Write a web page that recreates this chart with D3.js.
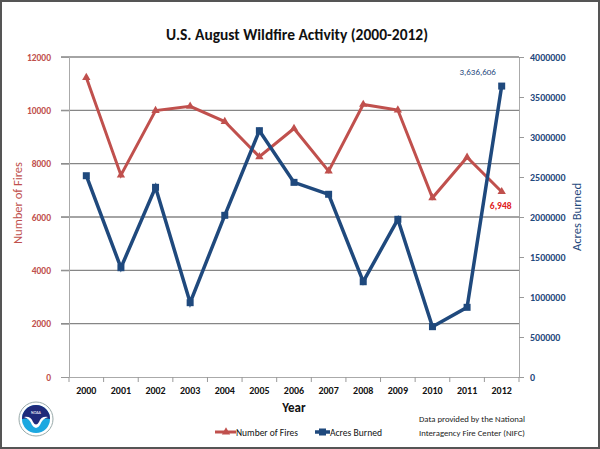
<!DOCTYPE html>
<html><head><meta charset="utf-8">
<script src="https://cdn.jsdelivr.net/npm/d3@7"></script>
<style>body{margin:0;background:#fff}svg{display:block;font-family:Carlito,Lato,"Open Sans",sans-serif}</style>
</head><body><svg id="c" width="600" height="449"></svg>
<script>
const years = ["2000","2001","2002","2003","2004","2005","2006","2007","2008","2009","2010","2011","2012"];
const fires = [11230,7570,9990,10150,9580,8260,9320,7720,10220,10010,6720,8240,6948];
const acres = [2516000,1366000,2371000,929000,2021000,3079000,2433000,2284000,1191000,1971000,629000,871000,3636606];
const leftTicks = [0,2000,4000,6000,8000,10000,12000];
const rightTicks = [0,500000,1000000,1500000,2000000,2500000,3000000,3500000,4000000];
const RED="#c0504d", BLUE="#1f497d";
const svg=d3.select("#c");
const m={l:69,r:519,t:57,b:377};
const x=d3.scaleBand().domain(years).range([m.l,m.r]);
const yL=d3.scaleLinear().domain([0,12000]).range([m.b,m.t]);
const yR=d3.scaleLinear().domain([0,4000000]).range([m.b,m.t]);
// border
svg.append("rect").attr("x",1).attr("y",1).attr("width",598).attr("height",447).attr("fill","#fff").attr("stroke","#555").attr("stroke-width",2);
// title
svg.append("text").attr("x",297).attr("y",40).attr("text-anchor","middle").attr("font-size",15.5).attr("font-weight","bold").attr("fill","#111").text("U.S. August Wildfire Activity (2000-2012)");
// gridlines
svg.append("g").selectAll("line").data(leftTicks.filter(d=>d>0)).join("line")
 .attr("x1",m.l-8).attr("x2",m.r).attr("y1",d=>yL(d)).attr("y2",d=>yL(d)).attr("stroke","#868686").attr("stroke-width",1.3);
// left axis
const gL=svg.append("g").attr("transform",`translate(${m.l},0)`).call(d3.axisLeft(yL).tickValues(leftTicks).tickSize(8).tickPadding(10).tickFormat(d3.format("d")));
gL.selectAll("text").attr("fill",RED).attr("font-size",9.5).attr("font-weight","bold").attr("font-family","Carlito,Lato,sans-serif");
gL.selectAll("line").attr("stroke","#999");gL.select(".domain").attr("stroke","#aaa");
// right axis
const gR=svg.append("g").attr("transform",`translate(${m.r},0)`).call(d3.axisRight(yR).tickValues(rightTicks).tickSize(5).tickPadding(6).tickFormat(d3.format("d")));
gR.selectAll("text").attr("fill",BLUE).attr("font-size",10).attr("font-weight","bold").attr("font-family","Carlito,Lato,sans-serif");
gR.selectAll("line").attr("stroke","#999");gR.select(".domain").attr("stroke","#aaa");
// bottom axis
const gB=svg.append("g").attr("transform",`translate(0,${m.b})`).call(d3.axisBottom(x).tickSize(0).tickPadding(10));
gB.selectAll("text").attr("fill","#111").attr("font-size",10).attr("font-weight","bold").attr("font-family","Carlito,Lato,sans-serif");
gB.select(".domain").attr("stroke","#aaa");
svg.append("g").selectAll("line").data(years.concat(["end"])).join("line")
 .attr("x1",(d,i)=>m.l+i*x.step()).attr("x2",(d,i)=>m.l+i*x.step()).attr("y1",m.b).attr("y2",m.b+5).attr("stroke","#999");
// axis titles
svg.append("text").attr("transform","translate(22,203) rotate(-90)").attr("text-anchor","middle").attr("font-size",13).attr("textLength",82).attr("lengthAdjust","spacingAndGlyphs").attr("fill",RED).text("Number of Fires");
svg.append("text").attr("transform","translate(581,217) rotate(-90)").attr("text-anchor","middle").attr("font-size",13).attr("textLength",68).attr("lengthAdjust","spacingAndGlyphs").attr("fill",BLUE).text("Acres Burned");
svg.append("text").attr("x",294).attr("y",412).attr("text-anchor","middle").attr("font-size",13).attr("font-weight","bold").attr("fill","#111").text("Year");
const cx=d=>x(d)+x.bandwidth()/2;
// lines
svg.append("path").datum(fires).attr("fill","none").attr("stroke",RED).attr("stroke-width",3)
 .attr("d",d3.line().x((d,i)=>cx(years[i])).y(d=>yL(d)));
svg.append("g").selectAll("path").data(fires).join("path")
 .attr("d",d3.symbol(d3.symbolTriangle,30)()).attr("fill",RED)
 .attr("transform",(d,i)=>`translate(${cx(years[i])},${yL(d)})`);
svg.append("path").datum(acres).attr("fill","none").attr("stroke",BLUE).attr("stroke-width",3.5)
 .attr("d",d3.line().x((d,i)=>cx(years[i])).y(d=>yR(d)));
svg.append("g").selectAll("rect").data(acres).join("rect")
 .attr("x",(d,i)=>cx(years[i])-3.5).attr("y",d=>yR(d)-3.5).attr("width",7).attr("height",7).attr("fill",BLUE);
// data labels
svg.append("text").attr("x",cx("2012")-24).attr("y",yR(acres[12])-11).attr("text-anchor","middle").attr("font-size",9).attr("fill",BLUE).text(d3.format(",")(acres[12]));
svg.append("text").attr("x",cx("2012")-1).attr("y",yL(fires[12])+17).attr("text-anchor","middle").attr("font-size",9.5).attr("font-weight","bold").attr("fill","#e02020").text(d3.format(",")(fires[12]));
// legend
const lg=svg.append("g");
const ly=432;
lg.append("line").attr("x1",215).attr("x2",236).attr("y1",ly).attr("y2",ly).attr("stroke",RED).attr("stroke-width",3);
lg.append("path").attr("d",d3.symbol(d3.symbolTriangle,30)()).attr("fill",RED).attr("transform",`translate(226,${ly})`);
lg.append("text").attr("x",236).attr("y",ly+4).attr("font-size",10.5).attr("textLength",62).attr("lengthAdjust","spacingAndGlyphs").attr("fill","#111").text("Number of Fires");
lg.append("line").attr("x1",315).attr("x2",330).attr("y1",ly).attr("y2",ly).attr("stroke",BLUE).attr("stroke-width",3.5);
lg.append("rect").attr("x",319).attr("y",ly-3.5).attr("width",7).attr("height",7).attr("fill",BLUE);
lg.append("text").attr("x",330).attr("y",ly+4).attr("font-size",10.5).attr("textLength",52).attr("lengthAdjust","spacingAndGlyphs").attr("fill","#111").text("Acres Burned");
// source note
svg.append("text").attr("x",419).attr("y",422).attr("font-size",8.5).attr("textLength",106).attr("lengthAdjust","spacingAndGlyphs").attr("fill","#222").text("Data provided by the National");
svg.append("text").attr("x",419).attr("y",436).attr("font-size",8.5).attr("textLength",106).attr("lengthAdjust","spacingAndGlyphs").attr("fill","#222").text("Interagency Fire Center (NIFC)");
// NOAA logo
const lo=svg.append("g").attr("transform","translate(36,419)");
lo.append("circle").attr("r",17).attr("fill","#fff").attr("stroke","#9aa","stroke-width",1);
lo.append("circle").attr("r",14).attr("fill","#1ca8e0");
lo.append("path").attr("d","M-14,0 A14,14 0 0 1 14,0 Q7,-2 4,4 Q0,10 -4,4 Q-7,-2 -14,0 Z").attr("fill","#1f2a7a");
lo.append("path").attr("d","M-12,-2 Q-5,-3 -3,3 Q0,8 3,3 Q5,-3 12,-2 Q6,0 4,6 Q0,12 -4,6 Q-6,0 -12,-2 Z").attr("fill","#fff");
lo.append("text").attr("y",-5).attr("text-anchor","middle").attr("font-size",4).attr("fill","#fff").text("NOAA");
</script></body></html>
